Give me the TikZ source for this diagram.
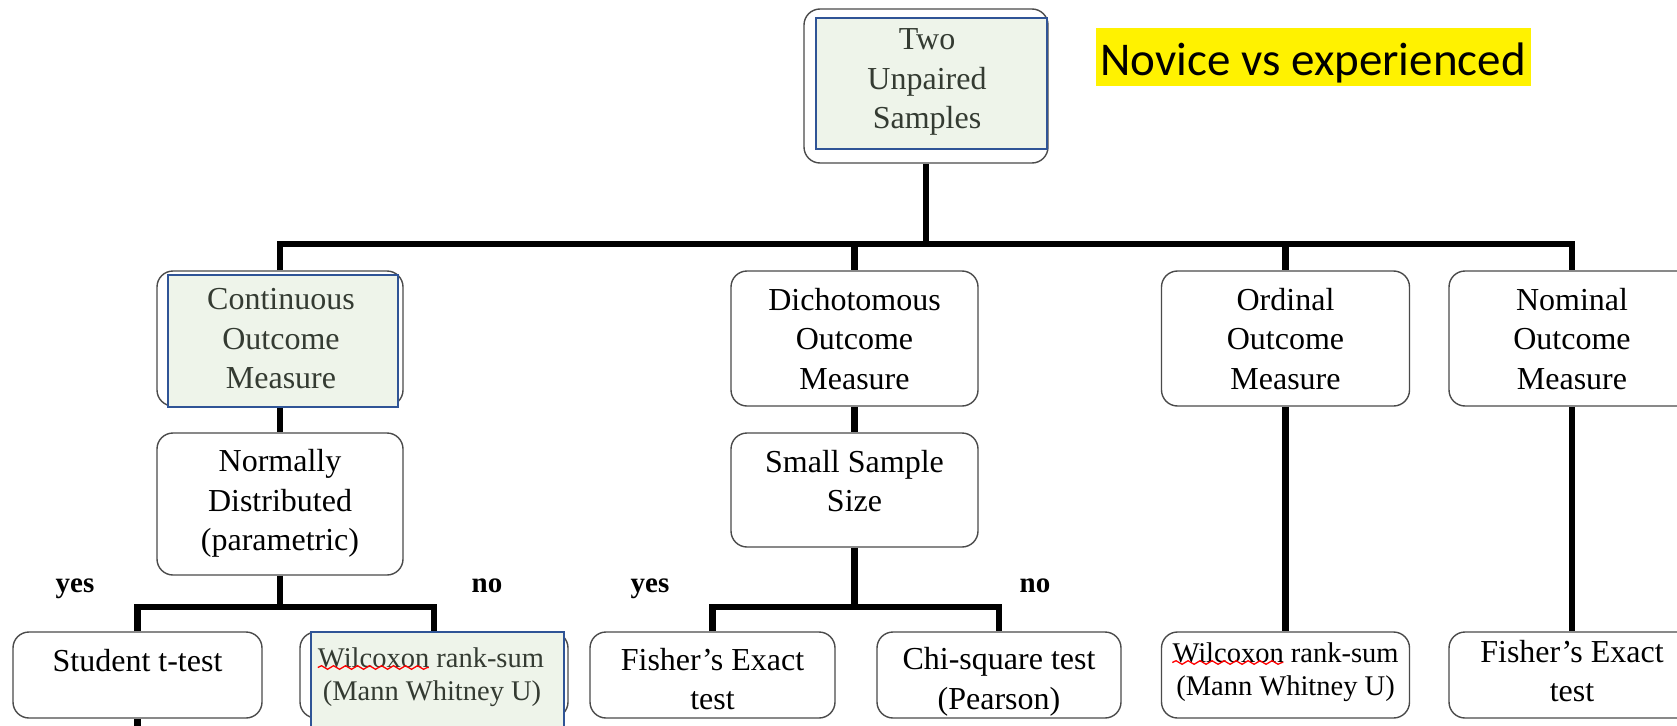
\documentclass[tikz,border=0pt]{standalone}
\usepackage{fontspec}
\setmainfont{Liberation Serif}
\newfontfamily\notefont{Carlito}
\usetikzlibrary{backgrounds,decorations.pathmorphing}

\definecolor{boxline}{HTML}{4A4A4A}
\definecolor{hlblue}{HTML}{2F5496}
\definecolor{hlfill}{HTML}{EEF4EA}
\definecolor{hltext}{HTML}{343B32}

\begin{document}
\begin{tikzpicture}[x=1pt,y=-1pt,
  box/.style={draw=boxline, line width=1.4pt, rounded corners=16pt, fill=white, inner sep=0pt},
  hlrect/.style={draw=hlblue, line width=2.4pt, fill=hlfill, inner sep=0pt},
  txt/.style={font=\fontsize{32}{39.5}\selectfont, align=center, inner sep=0pt},
  smalltxt/.style={font=\fontsize{28.5}{33}\selectfont, inner sep=0pt, anchor=base},
  answer/.style={font=\bfseries\fontsize{29}{35}\selectfont, inner sep=0pt, anchor=base},
  spellmark/.style={draw=red, line width=1.3pt, decorate,
    decoration={snake, amplitude=1.8pt, segment length=12pt}},
  wire/.style={line width=6.5pt, line join=miter, draw=black}]
\useasboundingbox (0,0) rectangle (1677,725);
\clip (0,0) rectangle (1677,725);

% ---- boxes ----
\node[box, minimum width=244pt, minimum height=154pt] (top) at (926,86) {};
\node[hlrect, minimum width=231pt, minimum height=131pt] (topHL) at (931.5,83.5) {};
\node[txt, text=hltext] (topT) at (927,82) {Two\\Unpaired\\Samples};

\node[box, minimum width=246pt, minimum height=135pt] (cont) at (280,338.5) {};
\node[hlrect, minimum width=230pt, minimum height=132pt] (contHL) at (283,341) {};
\node[txt, text=hltext] (contT) at (281,339) {Continuous\\Outcome\\Measure};

\node[box, minimum width=247pt, minimum height=135pt] (dich) at (854.5,338.5) {};
\node[txt] (dichT) at (854.5,339) {Dichotomous\\Outcome\\Measure};

\node[box, minimum width=248pt, minimum height=135pt] (ord) at (1285.5,338.5) {};
\node[txt] (ordT) at (1285.5,339) {Ordinal\\Outcome\\Measure};

\node[box, minimum width=246pt, minimum height=135pt] (nom) at (1572,338.5) {};
\node[txt] (nomT) at (1572,339) {Nominal\\Outcome\\Measure};

\node[box, minimum width=246pt, minimum height=142pt] (norm) at (280,504) {};
\node[txt] (normT) at (280,503.5) {Normally\\Distributed\\(parametric)};

\node[box, minimum width=247pt, minimum height=114pt] (small) at (854.5,490) {};
\node[txt] (smallT) at (854.5,481) {Small Sample\\Size};

\node[box, minimum width=249pt, minimum height=86pt] (stu) at (137.5,675) {};
\node[txt] (stuT) at (137.5,661) {Student t-test};

\node[box, minimum width=268pt, minimum height=86pt] (wil) at (434,675) {};
\node[hlrect, minimum width=253pt, minimum height=120pt] (wilHL) at (437.5,692) {};
\node[smalltxt, text=hltext] (wilA) at (431,667) {Wilcoxon rank-sum};
\node[smalltxt, text=hltext] (wilB) at (432,700) {(Mann Whitney U)};
\draw[spellmark] ([yshift=-0.5pt]wilA.base west) -- ([yshift=-0.5pt,xshift=111pt]wilA.base west);

\node[box, minimum width=245pt, minimum height=86pt] (fish) at (712.5,675) {};
\node[txt] (fishT) at (712.5,679) {Fisher’s Exact\\test};

\node[box, minimum width=244pt, minimum height=86pt] (chi) at (999,675) {};
\node[txt] (chiT) at (999,682) {Chi-square test\\(Pearson)};

\node[box, minimum width=248pt, minimum height=86pt] (wilo) at (1285.5,675) {};
\node[smalltxt] (wiloA) at (1285.5,662) {Wilcoxon rank-sum};
\node[smalltxt] (wiloB) at (1285.5,695) {(Mann Whitney U)};
\draw[spellmark] ([yshift=-0.5pt]wiloA.base west) -- ([yshift=-0.5pt,xshift=111pt]wiloA.base west);

\node[box, minimum width=246pt, minimum height=86pt] (fishn) at (1572,675) {};
\node[txt] (fishnT) at (1572,671) {Fisher’s Exact\\test};

% ---- branch labels ----
\node[answer] (yes1) at (75,592) {yes};
\node[answer] (no1) at (487,592) {no};
\node[answer] (yes2) at (650,592) {yes};
\node[answer] (no2) at (1035,592) {no};

% ---- note ----
\node[fill=yellow, minimum width=435pt, minimum height=58pt, inner sep=0pt] (noteHL) at (1313.5,57) {};
\node[font=\notefont\fontsize{47}{56}\selectfont, inner sep=0pt] (note) at (1313,63) {Novice vs experienced};

% ---- connectors ----
\coordinate (bus) at (0,244);
\coordinate (lowbus) at (0,607);
\coordinate (stuEnd) at (137.5,740);
\begin{scope}[on background layer]
  \draw[wire] (top.south) -- (top.south |- bus);
  \draw[wire] (cont.north) -- (cont.north |- bus) -- (nom.north |- bus) -- (nom.north);
  \draw[wire] (dich.north |- bus) -- (dich.north);
  \draw[wire] (ord.north |- bus) -- (ord.north);
  \draw[wire] (cont.south) -- (norm.north);
  \draw[wire] (dich.south) -- (small.north);
  \draw[wire] (norm.south) -- (norm.south |- lowbus);
  \draw[wire] (stu.north) -- (stu.north |- lowbus) -- (wil.north |- lowbus) -- (wil.north);
  \draw[wire] (small.south) -- (small.south |- lowbus);
  \draw[wire] (fish.north) -- (fish.north |- lowbus) -- (chi.north |- lowbus) -- (chi.north);
  \draw[wire] (ord.south) -- (wilo.north);
  \draw[wire] (nom.south) -- (fishn.north);
  \draw[wire] (stu.south) -- (stuEnd);
\end{scope}
\end{tikzpicture}
\end{document}
